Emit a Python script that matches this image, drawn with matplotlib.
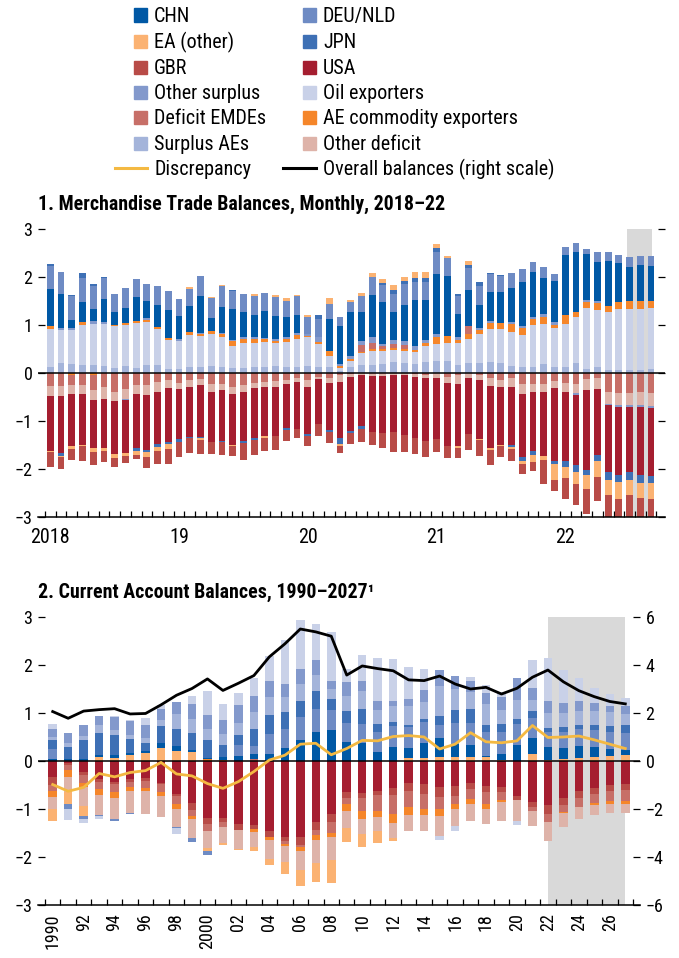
import numpy as np
import matplotlib
matplotlib.use('Agg')
import matplotlib.pyplot as plt
from matplotlib import font_manager
from matplotlib.patches import Rectangle
from matplotlib.lines import Line2D

# ---------------- panel 1 : monthly merchandise trade balances, Jan 2018 - Sep 2022
month_labels = ['2018', '19', '20', '21', '22']

tb_sae = [0.13, 0.21, 0.19, 0.17, 0.17, 0.15, 0.11, 0.15, 0.10, 0.17, 0.17, 0.08,
          0.08, 0.12, 0.12, 0.15, 0.12, 0.10, 0.10, 0.12, 0.12, 0.15, 0.12, 0.12,
          0.15, 0.12, 0.12, 0.05, 0.13, 0.17, 0.17, 0.19, 0.23, 0.21, 0.19, 0.23,
          0.25, 0.24, 0.17, 0.21, 0.21, 0.23, 0.21, 0.15, 0.13, 0.13, 0.19, 0.13,
          0.13, 0.21, 0.08, 0.13, 0.06, 0.06, 0.06, 0.06, 0.08]
tb_oil = [0.78, 0.69, 0.71, 0.83, 0.86, 0.87, 0.87, 0.85, 0.95, 0.89, 0.75, 0.61,
          0.59, 0.67, 0.65, 0.66, 0.63, 0.46, 0.52, 0.50, 0.53, 0.47, 0.53, 0.59,
          0.59, 0.48, 0.23, 0.05, 0.13, 0.25, 0.29, 0.27, 0.25, 0.25, 0.25, 0.33,
          0.36, 0.39, 0.46, 0.50, 0.60, 0.69, 0.71, 0.70, 0.66, 0.87, 0.83, 0.81,
          0.89, 0.96, 1.27, 1.18, 1.21, 1.27, 1.27, 1.27, 1.27]
tb_aec = [0.06, 0.0, -0.04, 0.06, -0.04, 0.0, 0.03, 0.04, 0.03, 0.04, 0.04, 0.04,
          0.0, 0.06, 0.04, 0.06, 0.06, 0.11, 0.09, 0.09, 0.06, 0.05, 0.06, 0.08,
          0.03, 0.05, 0.11, 0.05, 0.04, 0.02, 0.04, 0.04, 0.04, 0.04, 0.04, 0.07,
          0.13, 0.14, 0.06, 0.10, 0.09, 0.12, 0.12, 0.17, 0.15, 0.13, 0.15, 0.06,
          0.19, 0.10, 0.13, 0.14, 0.13, 0.15, 0.17, 0.17, 0.15]
tb_dem = [-0.28, -0.28, -0.22, -0.25, -0.31, -0.29, -0.40, -0.33, -0.25, -0.25, -0.19, -0.15,
          -0.21, -0.15, -0.13, -0.23, -0.23, -0.29, -0.25, -0.21, -0.19, -0.17, -0.15, -0.10,
          -0.15, -0.08, -0.10, -0.04, -0.02, 0.14, 0.12, 0.06, 0.08, 0.08, -0.02, -0.04,
          0.0, -0.08, -0.04, 0.17, -0.04, -0.10, -0.15, -0.10, -0.23, -0.23, -0.23, -0.17,
          -0.21, -0.23, -0.12, -0.10, -0.40, -0.42, -0.42, -0.40, -0.42]
tb_od = [-0.19, -0.19, -0.18, -0.19, -0.21, -0.25, -0.19, -0.21, -0.19, -0.21, -0.21, -0.17,
         -0.12, -0.15, -0.12, -0.17, -0.12, -0.15, -0.15, -0.10, -0.10, -0.12, -0.08, -0.08,
         -0.15, -0.04, -0.10, -0.15, -0.06, -0.04, -0.06, -0.06, -0.04, -0.04, -0.06, -0.06,
         -0.10, -0.12, -0.19, -0.10, -0.10, -0.17, -0.15, -0.19, -0.21, -0.17, -0.17, -0.15,
         -0.19, -0.19, -0.23, -0.23, -0.25, -0.25, -0.25, -0.27, -0.27]
tb_os = [0.0, 0.04, 0.04, 0.0, 0.05, 0.04, 0.0, -0.02, 0.0, 0.05, 0.0, 0.0,
         0.04, 0.0, 0.02, 0.0, 0.02, 0.02, 0.04, 0.04, 0.02, 0.04, 0.04, 0.04,
         0.04, 0.10, 0.0, 0.04, 0.05, 0.09, 0.13, 0.04, 0.09, 0.09, 0.08, 0.06,
         0.07, 0.0, 0.06, 0.0, 0.04, 0.04, 0.0, 0.04, 0.04, 0.04, 0.06, 0.06,
         0.0, -0.04, 0.04, 0.05, -0.02, -0.04, -0.04, -0.04, -0.04]
tb_chn = [0.78, 0.71, 0.16, 0.42, 0.25, 0.48, 0.26, 0.31, 0.50, 0.35, 0.46, 0.58,
          0.48, 0.55, 0.77, 0.28, 0.55, 0.64, 0.52, 0.46, 0.56, 0.48, 0.42, 0.38,
          0.0, 0.0, 0.67, 0.79, 0.92, 0.60, 0.88, 0.88, 0.58, 0.75, 0.96, 0.83,
          1.26, 1.25, 0.48, 0.75, 0.48, 0.61, 0.65, 0.71, 0.92, 0.93, 0.75, 0.86,
          1.25, 1.25, 0.96, 0.81, 0.93, 0.81, 0.71, 0.75, 0.73]
tb_usa = [-1.15, -1.19, -1.08, -1.06, -1.00, -1.02, -1.10, -1.10, -1.12, -1.15, -1.08, -1.12,
          -1.04, -1.04, -1.08, -1.04, -1.06, -1.06, -1.02, -1.04, -1.02, -1.02, -0.92, -0.98,
          -0.98, -0.94, -0.98, -1.17, -1.12, -1.06, -1.17, -1.19, -1.19, -1.25, -1.27, -1.31,
          -1.27, -1.33, -1.29, -1.17, -1.23, -1.29, -1.21, -1.21, -1.31, -1.23, -1.33, -1.52,
          -1.44, -1.46, -1.67, -1.38, -1.40, -1.42, -1.35, -1.42, -1.42]
tb_deu = [0.48, 0.45, 0.50, 0.50, 0.48, 0.44, 0.38, 0.42, 0.38, 0.35, 0.39, 0.40,
          0.35, 0.35, 0.42, 0.41, 0.43, 0.38, 0.38, 0.39, 0.38, 0.39, 0.33, 0.39,
          0.36, 0.38, 0.31, 0.19, 0.21, 0.33, 0.37, 0.35, 0.38, 0.43, 0.38, 0.38,
          0.45, 0.37, 0.37, 0.46, 0.39, 0.37, 0.33, 0.31, 0.27, 0.21, 0.23, 0.14,
          0.17, 0.19, 0.10, 0.21, 0.19, 0.17, 0.21, 0.19, 0.21]
tb_jpn = [0.04, -0.06, 0.02, 0.10, 0.04, 0.02, 0.0, 0.0, -0.06, -0.04, -0.06, -0.04,
          -0.06, -0.02, -0.02, 0.0, -0.02, 0.02, -0.04, -0.04, 0.0, 0.0, -0.04, 0.0,
          -0.04, 0.08, -0.04, -0.12, -0.06, -0.06, 0.0, 0.05, 0.08, 0.07, 0.08, 0.08,
          0.09, 0.0, 0.05, 0.06, 0.09, 0.02, 0.02, -0.04, -0.08, -0.08, 0.0, -0.06,
          -0.12, -0.15, -0.10, -0.12, -0.15, -0.15, -0.17, -0.17, -0.15]
tb_ea = [-0.02, -0.02, -0.06, -0.02, -0.08, -0.06, -0.08, -0.06, -0.08, -0.10, -0.08, -0.10,
         0.0, 0.04, -0.04, 0.02, 0.02, -0.02, 0.0, 0.05, -0.04, 0.04, 0.06, 0.02,
         0.03, 0.0, 0.12, -0.04, 0.04, 0.07, 0.08, 0.08, 0.10, 0.08, 0.12, 0.12,
         0.08, 0.05, -0.04, 0.08, -0.02, -0.04, -0.02, -0.04, -0.06, -0.15, -0.08, -0.33,
         -0.23, -0.25, -0.29, -0.33, -0.33, -0.35, -0.31, -0.31, -0.33]
tb_gbr = [-0.31, -0.25, -0.23, -0.31, -0.27, -0.23, -0.19, -0.15, -0.10, -0.23, -0.27, -0.31,
          -0.31, -0.31, -0.29, -0.25, -0.27, -0.21, -0.35, -0.31, -0.27, -0.29, -0.23, -0.19,
          -0.21, -0.25, -0.23, -0.15, -0.21, -0.27, -0.27, -0.31, -0.42, -0.35, -0.33, -0.35,
          -0.27, -0.25, -0.21, -0.33, -0.33, -0.31, -0.23, -0.25, -0.21, -0.19, -0.50, -0.23,
          -0.44, -0.42, -0.52, -0.50, -0.50, -0.42, -0.50, -0.43, -0.42]

# ---------------- panel 2 : annual current account balances, 1990-2027
years = np.arange(1990, 2028)
year_labels = ['1990', '92', '94', '96', '98', '2000', '02', '04', '06', '08',
               '10', '12', '14', '16', '18', '20', '22', '24', '26']

ca_chn = [0.04, 0.05, 0.04, 0.05, 0.07, 0.05, 0.04, 0.10, 0.10, 0.04,
          0.02, 0.06, 0.11, 0.11, 0.15, 0.27, 0.44, 0.60, 0.65, 0.40,
          0.37, 0.19, 0.29, 0.22, 0.31, 0.40, 0.28, 0.24, 0.03, 0.12,
          0.33, 0.33, 0.27, 0.23, 0.25, 0.21, 0.15, 0.10]
ca_deu = [0.21, -0.10, -0.06, -0.02, -0.04, -0.02, 0.0, 0.0, -0.02, -0.08,
          -0.08, 0.0, 0.22, 0.16, 0.41, 0.40, 0.48, 0.48, 0.41, 0.40,
          0.40, 0.42, 0.44, 0.42, 0.44, 0.27, 0.44, 0.46, 0.50, 0.45,
          0.44, 0.42, 0.31, 0.33, 0.35, 0.35, 0.35, 0.37]
ca_jpn = [0.19, 0.25, 0.40, 0.45, 0.41, 0.29, 0.17, 0.36, 0.36, 0.35,
          0.38, 0.25, 0.21, 0.36, 0.40, 0.35, 0.33, 0.38, 0.23, 0.25,
          0.31, 0.17, 0.08, 0.06, 0.06, 0.19, 0.27, 0.29, 0.15, 0.17,
          0.10, 0.15, 0.08, 0.10, 0.10, 0.12, 0.12, 0.15]
ca_sae = [0.07, 0.07, 0.08, 0.16, 0.11, 0.08, 0.10, 0.12, 0.31, 0.30,
          0.23, 0.23, 0.25, 0.35, 0.37, 0.31, 0.35, 0.33, 0.21, 0.31,
          0.38, 0.29, 0.33, 0.38, 0.35, 0.62, 0.42, 0.35, 0.42, 0.30,
          0.40, 0.23, 0.33, 0.31, 0.29, 0.29, 0.31, 0.23]
ca_os = [0.16, 0.22, 0.23, 0.20, 0.27, 0.30, 0.27, 0.23, 0.25, 0.31,
         0.29, 0.29, 0.38, 0.33, 0.34, 0.27, 0.32, 0.31, 0.17, 0.29,
         0.21, 0.17, 0.10, 0.15, 0.25, 0.33, 0.29, 0.23, 0.23, 0.27,
         0.46, 0.25, 0.23, 0.19, 0.19, 0.15, 0.12, 0.17]
ca_oil = [0.10, -0.23, -0.08, -0.06, 0.02, 0.02, 0.15, 0.09, -0.12, 0.16,
          0.50, 0.33, 0.25, 0.37, 0.52, 0.92, 1.02, 0.75, 1.02, 0.27,
          0.54, 0.90, 0.88, 0.67, 0.44, -0.08, -0.10, 0.10, 0.17, 0.10,
          -0.08, 0.58, 0.90, 0.69, 0.48, 0.33, 0.25, 0.17]
ca_ea = [-0.25, -0.25, -0.21, 0.08, 0.06, 0.12, 0.17, 0.27, 0.21, 0.19,
         -0.06, -0.06, -0.02, -0.08, -0.12, -0.25, -0.33, -0.40, -0.48, -0.29,
         -0.27, -0.25, -0.06, 0.06, 0.06, 0.08, 0.08, 0.09, 0.08, 0.03,
         0.0, 0.15, 0.02, 0.04, 0.06, 0.08, 0.10, 0.12]
ca_aec = [-0.14, -0.15, -0.08, -0.12, -0.12, -0.08, -0.06, -0.08, -0.10, -0.06,
          0.04, 0.02, 0.0, -0.06, -0.06, -0.06, -0.08, -0.10, -0.08, -0.15,
          -0.17, -0.12, -0.19, -0.17, -0.12, -0.15, -0.10, -0.10, -0.10, -0.04,
          0.0, 0.0, 0.0, -0.02, 0.0, -0.04, -0.06, -0.06]
ca_dem = [-0.12, -0.10, -0.17, -0.15, -0.17, -0.10, -0.15, -0.17, -0.17, -0.12,
          -0.15, -0.10, 0.0, 0.04, 0.0, -0.06, -0.04, -0.10, -0.23, -0.12,
          -0.27, -0.35, -0.40, -0.33, -0.31, -0.25, -0.17, -0.21, -0.25, -0.17,
          0.0, -0.10, -0.17, -0.15, -0.19, -0.19, -0.21, -0.23]
ca_gbr = [-0.17, -0.04, -0.07, -0.06, -0.04, -0.06, -0.06, -0.02, -0.04, -0.15,
          -0.12, -0.08, -0.12, -0.08, -0.12, -0.08, -0.17, -0.17, -0.17, -0.12,
          -0.10, -0.08, -0.15, -0.17, -0.21, -0.21, -0.21, -0.12, -0.12, -0.10,
          -0.08, -0.10, -0.19, -0.15, -0.15, -0.12, -0.12, -0.12]
ca_usa = [-0.33, -0.04, -0.22, -0.38, -0.44, -0.38, -0.35, -0.46, -0.69, -0.88,
          -1.19, -1.19, -1.31, -1.33, -1.46, -1.58, -1.58, -1.27, -1.10, -0.65,
          -0.67, -0.62, -0.56, -0.46, -0.48, -0.54, -0.52, -0.46, -0.52, -0.54,
          -0.73, -0.85, -0.92, -0.77, -0.62, -0.56, -0.50, -0.48]
ca_od = [-0.25, -0.31, -0.40, -0.42, -0.44, -0.46, -0.48, -0.44, -0.38, -0.40,
         -0.35, -0.33, -0.40, -0.33, -0.40, -0.33, -0.40, -0.48, -0.48, -0.35,
         -0.31, -0.29, -0.31, -0.33, -0.33, -0.42, -0.35, -0.35, -0.33, -0.40,
         -0.44, -0.31, -0.38, -0.29, -0.25, -0.21, -0.19, -0.19]
discrepancy = [-0.49, -0.63, -0.55, -0.26, -0.33, -0.24, -0.20, -0.03, -0.27, -0.31,
               -0.47, -0.57, -0.43, -0.22, 0.02, 0.12, 0.35, 0.37, 0.13, 0.26,
               0.43, 0.42, 0.51, 0.53, 0.50, 0.25, 0.35, 0.59, 0.40, 0.38,
               0.42, 0.74, 0.49, 0.50, 0.52, 0.44, 0.35, 0.26]
overall = [2.06, 1.78, 2.08, 2.14, 2.18, 1.96, 1.98, 2.34, 2.74, 3.02,
           3.42, 2.94, 3.24, 3.56, 4.34, 4.88, 5.50, 5.38, 5.20, 3.58,
           3.96, 3.85, 3.76, 3.38, 3.35, 3.54, 3.21, 3.00, 3.07, 2.79,
           3.03, 3.49, 3.79, 3.30, 2.93, 2.68, 2.48, 2.38]

colors = {
    'CHN': '#0058a5', 'DEU/NLD': '#6e8bc4', 'EA (other)': '#fbb272',
    'JPN': '#3e70b5', 'GBR': '#b84b47', 'USA': '#a51e30',
    'Other surplus': '#8399cc', 'Oil exporters': '#c9d1e8',
    'Deficit EMDEs': '#c76f68', 'AE commodity exporters': '#f5862a',
    'Surplus AEs': '#a4b4da', 'Other deficit': '#deb3a9',
    'Discrepancy': '#f4b942', 'Overall balances (right scale)': 'black',
}

# a narrow sans face, like the original; take the first one that is installed
fonts = {(f.name, f.stretch) for f in font_manager.fontManager.ttflist}
names = {n for n, _ in fonts}
family, stretch = 'Liberation Sans', 'normal'
for cand in ['Liberation Sans Narrow', 'Roboto Condensed', 'Open Sans Condensed',
             'Noto Sans Condensed', 'DejaVu Sans Condensed']:
    if cand in names:
        family = cand
        break
else:
    for n, s in [('Roboto', 'condensed'), ('Noto Sans', 'condensed'),
                 ('Open Sans', 'condensed'), ('DejaVu Sans', 'condensed'),
                 ('Noto Sans', 'semi-condensed'), ('Open Sans', 'semi-condensed')]:
        if (n, s) in fonts:
            family, stretch = n, s
            break
plt.rcParams['font.family'] = [family, 'DejaVu Sans']
plt.rcParams['font.stretch'] = stretch

W, H = 679, 958
fig = plt.figure(figsize=(W / 100, H / 100), dpi=100)


def fx(x):
    return x / W


def fy(y):
    return 1 - y / H


def stack(ax, x, series, pos_order, neg_order, width):
    base = np.zeros(len(x))
    for name in pos_order:
        v = np.clip(np.asarray(series[name], float), 0, None)
        ax.bar(x, v, width, bottom=base, color=colors[name], linewidth=0, zorder=2)
        base += v
    base = np.zeros(len(x))
    for name in neg_order:
        v = np.clip(np.asarray(series[name], float), None, 0)
        ax.bar(x, v, width, bottom=base, color=colors[name], linewidth=0, zorder=2)
        base += v


def style_axis(ax):
    for s in ['top', 'left', 'right']:
        ax.spines[s].set_visible(False)
    ax.spines['bottom'].set_linewidth(1.1)
    ax.axhline(0, color='black', lw=1.1, zorder=4)
    ax.tick_params(axis='y', direction='in', length=5, width=0.9, pad=4, labelsize=13)
    ax.tick_params(axis='x', which='major', length=0)
    ax.tick_params(axis='x', which='minor', direction='in', length=4, width=0.9)


# ---- legend (two columns, centred over the figure)
col1 = ['CHN', 'EA (other)', 'GBR', 'Other surplus', 'Deficit EMDEs', 'Surplus AEs', 'Discrepancy']
col2 = ['DEU/NLD', 'JPN', 'USA', 'Oil exporters', 'AE commodity exporters', 'Other deficit',
        'Overall balances (right scale)']
rows_y = [15, 41, 67, 92, 117, 143, 168]
for names_col, px, tx, lx in [(col1, 134, 154, 115), (col2, 303, 323, 283)]:
    for name, ry in zip(names_col, rows_y):
        if name in ('Discrepancy', 'Overall balances (right scale)'):
            fig.add_artist(Line2D([fx(lx), fx(px + 13)], [fy(ry), fy(ry)],
                                  color=colors[name], lw=2.2, transform=fig.transFigure))
        else:
            fig.add_artist(Rectangle((fx(px), fy(ry + 6.5)), 13 / W, 13 / H,
                                     color=colors[name], transform=fig.transFigure))
        fig.text(fx(tx), fy(ry + 7), name, fontsize=14.5, va='baseline', ha='left')

# ---- panel 1
ax1 = fig.add_axes([fx(38), fy(517), (665 - 38) / W, (517 - 229) / H])
months = np.arange(len(tb_chn))
series1 = {'Surplus AEs': tb_sae, 'Oil exporters': tb_oil, 'AE commodity exporters': tb_aec,
           'Deficit EMDEs': tb_dem, 'Other deficit': tb_od, 'Other surplus': tb_os,
           'CHN': tb_chn, 'USA': tb_usa, 'DEU/NLD': tb_deu, 'JPN': tb_jpn,
           'EA (other)': tb_ea, 'GBR': tb_gbr}
stack(ax1, months, series1,
      ['Surplus AEs', 'Oil exporters', 'AE commodity exporters', 'Deficit EMDEs',
       'Other surplus', 'CHN', 'DEU/NLD', 'JPN', 'EA (other)'],
      ['AE commodity exporters', 'Deficit EMDEs', 'Other deficit', 'Other surplus',
       'USA', 'JPN', 'EA (other)', 'GBR'], 0.64)
ax1.axvspan(53.8, 56.1, color='#d9d9d9', lw=0, zorder=0)
ax1.set_xlim(-1.15, 57.3)
ax1.set_ylim(-3, 3)
ax1.set_yticks(np.arange(-3, 4))
ax1.set_xticks(months[::12])
ax1.set_xticklabels(month_labels)
ax1.set_xticks(np.arange(-0.5, len(months), 1), minor=True)
style_axis(ax1)
ax1.tick_params(axis='y', right=True)
ax1.tick_params(axis='x', which='major', labelsize=14.5, pad=8)
fig.text(fx(38), fy(210), '1. Merchandise Trade Balances, Monthly, 2018–22',
         fontsize=14.3, fontweight='bold', va='baseline')

# ---- panel 2
ax2 = fig.add_axes([fx(38), fy(905), (640 - 38) / W, (905 - 617) / H])
series2 = {'CHN': ca_chn, 'DEU/NLD': ca_deu, 'JPN': ca_jpn, 'Surplus AEs': ca_sae,
           'Other surplus': ca_os, 'Oil exporters': ca_oil, 'EA (other)': ca_ea,
           'AE commodity exporters': ca_aec, 'Deficit EMDEs': ca_dem, 'GBR': ca_gbr,
           'USA': ca_usa, 'Other deficit': ca_od}
stack(ax2, years, series2,
      ['EA (other)', 'AE commodity exporters', 'Deficit EMDEs', 'CHN', 'DEU/NLD', 'JPN',
       'Surplus AEs', 'Other surplus', 'Oil exporters'],
      ['USA', 'GBR', 'Deficit EMDEs', 'AE commodity exporters', 'Other deficit',
       'EA (other)', 'DEU/NLD', 'Oil exporters'], 0.55)
ax2.axvspan(2022, 2027, color='#d9d9d9', lw=0, zorder=0)
ax2.plot(years, discrepancy, color=colors['Discrepancy'], lw=2.0, zorder=5)
ax2.set_xlim(1989.05, 2027.95)
ax2.set_ylim(-3, 3)
ax2.set_yticks(np.arange(-3, 4))
ax2.set_xticks(years[::2])
ax2.set_xticklabels(year_labels, rotation=90, va='top', ha='center')
ax2.set_xticks(np.arange(1989.5, 2028, 1), minor=True)
style_axis(ax2)
ax2.tick_params(axis='x', which='major', labelsize=13, pad=6)

ax2r = ax2.twinx()
ax2r.plot(years, overall, color='black', lw=2.0, zorder=6)
ax2r.set_ylim(-6, 6)
ax2r.set_yticks(np.arange(-6, 7, 2))
for s in ['top', 'left', 'right', 'bottom']:
    ax2r.spines[s].set_visible(False)
ax2r.tick_params(axis='y', direction='in', length=5, width=0.9, pad=4, labelsize=13)
fig.text(fx(38), fy(598), '2. Current Account Balances, 1990–2027¹',
         fontsize=14.3, fontweight='bold', va='baseline')

fig.savefig('out.png', dpi=100)
